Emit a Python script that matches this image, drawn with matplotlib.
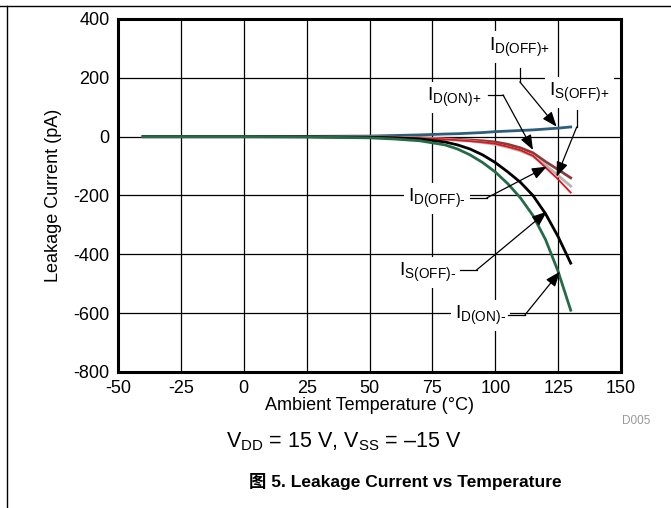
import matplotlib
matplotlib.use("Agg")
import matplotlib.pyplot as plt
from matplotlib.lines import Line2D

plt.rcParams['font.family'] = ['Liberation Sans', 'Noto Sans CJK SC', 'DejaVu Sans']
plt.rcParams['mathtext.fontset'] = 'custom'
plt.rcParams['mathtext.rm'] = 'Liberation Sans'
plt.rcParams['axes.unicode_minus'] = False

# Data (temperature in degC, current in pA)
temp = [-40, -25, 0, 25, 50, 60, 70, 80, 85, 90, 95, 100, 105, 110, 115, 120, 125, 130]
i_doff_pos = [0, 0, 0, 1, 2, 4, 6, 9, 10, 12, 14, 17, 19, 21, 23, 26, 29, 33]
i_don_pos = [0, 0, 0, 0, -1, -2, -4, -7, -9, -11, -14, -18, -26, -38, -55, -85, -112, -140]
i_doff_neg = [0, 0, 0, 0, -1, -2, -5, -9, -12, -15, -20, -26, -36, -48, -66, -97, -132, -168]
i_soff_pos = [0, 0, 0, 0, -1, -2, -5, -9, -12, -15, -19, -24, -34, -46, -65, -105, -145, -190]
i_soff_neg = [0, 0, 0, 0, -2, -4, -8, -18, -28, -42, -62, -88, -120, -155, -200, -262, -340, -430]
i_don_neg = [0, 0, 0, -1, -4, -8, -14, -28, -42, -62, -88, -120, -160, -208, -268, -350, -458, -590]

x_ticks = [-50, -25, 0, 25, 50, 75, 100, 125, 150]
y_ticks = [-800, -600, -400, -200, 0, 200, 400]

fig = plt.figure(figsize=(6.71, 5.08), dpi=100)
ax = fig.add_axes([118 / 671, 1 - 372 / 508, 503 / 671, 353 / 508])

# grid
for xv in x_ticks[1:-1]:
    ax.axvline(xv, color='black', lw=0.9, zorder=1)
for yv in y_ticks[1:-1]:
    ax.axhline(yv, color='black', lw=0.9, zorder=1)

ax.plot(temp, i_doff_pos, color='#2d5e7c', lw=2.0, zorder=3)
ax.plot(temp, i_don_pos, color='#8e3a3a', lw=2.0, zorder=3)
ax.plot(temp, i_doff_neg, color='#b5b5b5', lw=2.0, zorder=3)
ax.plot(temp, i_soff_pos, color='#e8111b', lw=1.3, zorder=3)
ax.plot(temp, i_soff_neg, color='black', lw=2.0, zorder=3)
ax.plot(temp, i_don_neg, color='#256b48', lw=2.0, zorder=3)

ax.set_xlim(-50, 150)
ax.set_ylim(-800, 400)
ax.set_xticks(x_ticks)
ax.set_yticks(y_ticks)
ax.tick_params(length=0, labelsize=13, pad=6)
for s in ax.spines.values():
    s.set_linewidth(2.2)
ax.set_xlabel('Ambient Temperature (\u00b0C)', fontsize=13, labelpad=0)
ax.set_ylabel('Leakage Current (pA)', fontsize=13, labelpad=8)

# callout labels: (text, text pos, elbow start, elbow end, arrow tip)
callouts = [
    (r'$\mathregular{I_{\text{D(OFF)+}}}$', (109.8, 305), [(109.8, 233), (109.8, 186)], (124.4, 34)),
    (r'$\mathregular{I_{\text{S(OFF)+}}}$', (133.5, 150), [(132.4, 91), (132.4, 33)], (124.4, -136)),
    (r'$\mathregular{I_{\text{D(ON)+}}}$', (83.5, 133), [(97.1, 142), (103.1, 142)], (115, -45)),
    (r'$\mathregular{I_{\text{D(OFF)-}}}$', (77.0, -210), [(90.0, -208), (96.7, -208)], (120.5, -102)),
    (r'$\mathregular{I_{\text{S(OFF)-}}}$', (73.0, -462), [(86.0, -453), (92.6, -453)], (120.5, -255)),
    (r'$\mathregular{I_{\text{D(ON)-}}}$', (94.0, -608), [(105.0, -606), (111.8, -606)], (125.7, -459)),
]
for label, tpos, elbow, tip in callouts:
    ax.text(tpos[0], tpos[1], label, fontsize=14, ha='center', va='center', zorder=4,
            bbox=dict(facecolor='white', edgecolor='none', pad=3))
    ax.plot([elbow[0][0], elbow[1][0]], [elbow[0][1], elbow[1][1]], color='black',
            lw=0.9, zorder=5)
    ax.annotate('', xy=tip, xytext=elbow[1], zorder=5,
                arrowprops=dict(arrowstyle='-|>,head_length=0.9,head_width=0.35',
                                color='black', lw=0.9, shrinkA=0, shrinkB=0))

fig.text(650 / 671, 1 - 421 / 508, 'D005', fontsize=8.5, color='#999999',
         ha='right', va='center')
fig.text(344 / 671, 1 - 442 / 508,
         r'$\mathregular{V_{DD}}$ = 15 V, $\mathregular{V_{SS}}$ = ' + '\u201315 V',
         fontsize=15.5, ha='center', va='center')
fig.text(405 / 671, 1 - 482 / 508, '图 5. Leakage Current vs Temperature',
         fontsize=12.5, fontweight='bold', ha='center', va='center')

# page border lines
fig.add_artist(Line2D([0, 1], [1 - 6 / 508, 1 - 6 / 508], color='black', lw=1.0,
                      transform=fig.transFigure))
fig.add_artist(Line2D([7 / 671, 7 / 671], [0, 1 - 6 / 508], color='black', lw=1.0,
                      transform=fig.transFigure))

fig.savefig('out.png', dpi=100)
